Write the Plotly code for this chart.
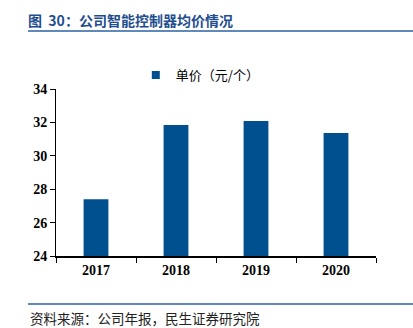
import plotly.graph_objects as go

# Average unit price of the company's smart controllers
years = ["2017", "2018", "2019", "2020"]
unit_price = [27.4, 31.84, 32.08, 31.36]
series_name = "单价（元/个）"
y_ticks = [24, 26, 28, 30, 32, 34]

bar_color = "#00508F"
title_color = "#1F4E8F"
rule_color = "#2A62A4"

fig = go.Figure()
fig.add_trace(go.Bar(
    x=years,
    y=unit_price,
    marker=dict(color=bar_color, line=dict(width=0)),
    showlegend=False,
))
# legend entry drawn with a small square swatch
fig.add_trace(go.Scatter(
    x=[None], y=[None], mode="markers", name=series_name,
    marker=dict(symbol="square", size=8, color=bar_color),
))

tick_font = dict(family="Liberation Serif", size=14, color="#000000", weight="bold")

fig.update_layout(
    width=413, height=328,
    margin=dict(l=56, r=37, t=89, b=72),
    paper_bgcolor="white", plot_bgcolor="white",
    bargap=0.69,
    title=dict(
        text="图  30：公司智能控制器均价情况",
        x=28 / 413, xanchor="left", xref="container",
        y=1 - 21 / 328, yanchor="middle", yref="container",
        font=dict(family="Noto Sans CJK SC", size=14, color=title_color, weight="bold"),
    ),
    legend=dict(
        x=(155 - 56) / 320 - 0.06, xanchor="left",
        y=(256 - 75) / 167, yanchor="middle",
        orientation="h",
        font=dict(family="Noto Sans CJK SC", size=13, color="#000000"),
        itemwidth=30,
        bgcolor="rgba(0,0,0,0)",
    ),
    xaxis=dict(
        type="category",
        showline=True, linecolor="#000000", linewidth=1.5,
        ticks="outside", tickson="boundaries", ticklen=5, tickcolor="#000000", tickwidth=1,
        tickfont=tick_font,
        showgrid=False, zeroline=False,
    ),
    yaxis=dict(
        range=[24, 34],
        tickvals=y_ticks,
        showline=True, linecolor="#000000", linewidth=1,
        ticks="outside", ticklen=5, tickcolor="#000000", tickwidth=1,
        tickfont=tick_font,
        showgrid=False, zeroline=False,
    ),
    shapes=[
        dict(type="line", xref="paper", yref="paper",
             x0=(28 - 56) / 320, x1=(413 - 56) / 320,
             y0=(256 - 31) / 167, y1=(256 - 31) / 167,
             line=dict(color=rule_color, width=1.5)),
        dict(type="line", xref="paper", yref="paper",
             x0=(28 - 56) / 320, x1=(413 - 56) / 320,
             y0=(256 - 304) / 167, y1=(256 - 304) / 167,
             line=dict(color=rule_color, width=1.5)),
    ],
    annotations=[
        dict(text="资料来源：公司年报，民生证券研究院",
             xref="paper", yref="paper",
             x=(28 - 56) / 320, xanchor="left",
             y=(256 - 318) / 167, yanchor="middle",
             showarrow=False,
             font=dict(family="Noto Sans CJK SC", size=13.5, color="#222222")),
    ],
)

fig.write_html("out.html")
